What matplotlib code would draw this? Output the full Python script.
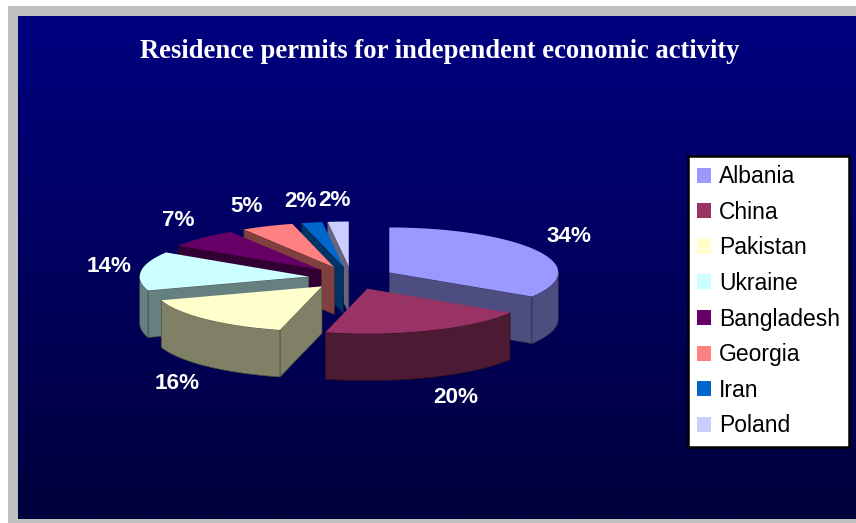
import numpy as np
import matplotlib.pyplot as plt
from matplotlib.patches import Polygon, Rectangle, Patch
from matplotlib.colors import to_rgb

# Residence permits by country of citizenship (share of total, %)
countries = ['Albania', 'China', 'Pakistan', 'Ukraine', 'Bangladesh', 'Georgia', 'Iran', 'Poland']
shares = [34, 20, 16, 14, 7, 5, 2, 2]
colors = ['#9999FF', '#993366', '#FFFFCC', '#CCFFFF', '#660066', '#FF8080', '#0066CC', '#CCCCFF']

W, H = 856, 523

fig = plt.figure(figsize=(W / 100, H / 100), dpi=100)
fig.patch.set_facecolor('white')
ax = fig.add_axes([0, 0, 1, 1])
ax.set_xlim(0, W)
ax.set_ylim(H, 0)
ax.axis('off')

# grey frame and navy gradient panel
ax.add_patch(Rectangle((8, 6), W - 8, H - 6, facecolor='#C0C0C0', edgecolor='none', zorder=0))
top = np.array([0, 0, 128]) / 255
bottom = np.array([0, 0, 60]) / 255
t = np.linspace(0, 1, 256)[:, None, None]
grad = top * (1 - t) + bottom * t
ax.imshow(grad, extent=(18, W, 519, 16), aspect='auto', zorder=1, interpolation='bilinear')

ax.text(440, 51, 'Residence permits for independent economic activity',
        ha='center', va='center', color='white', fontsize=19.2, fontweight='bold',
        family='Liberation Serif', zorder=5)

# 3D pie geometry (pixel space)
cx, cy = 351.5, 278.0
rx, ry = 169.0, 45.0
depth = 47.0
explode = 0.255


def rim(x0, y0, ang, dz=0.0):
    a = np.radians(ang)
    return x0 + rx * np.sin(a), y0 - ry * np.cos(a) + dz


def darker(c, f=0.5):
    return tuple(v * f for v in to_rgb(c))


renderer = fig.canvas.get_renderer()
bounds = np.concatenate([[0], np.cumsum(shares)]) / sum(shares) * 360.0
slices = []
for i, (name, val, col) in enumerate(zip(countries, shares, colors)):
    a1, a2 = bounds[i], bounds[i + 1]
    mid = np.radians((a1 + a2) / 2)
    ox = cx + explode * rx * np.sin(mid)
    oy = cy - explode * ry * np.cos(mid)
    slices.append((np.cos(mid), a1, a2, ox, oy, val, col))

# back slices first
for k, (cm, a1, a2, ox, oy, val, col) in enumerate(sorted(slices, key=lambda s: -s[0])):
    z = 10 + k
    side = darker(col)
    edge = darker(col, 0.3)
    faces = []
    # radial cut faces that face the viewer
    if np.sin(np.radians(a1)) < -1e-6:
        faces.append(a1)
    if np.sin(np.radians(a2)) > 1e-6:
        faces.append(a2)
    for a in faces:
        x, y = rim(ox, oy, a)
        poly = [(ox, oy), (x, y), (x, y + depth), (ox, oy + depth)]
        ax.add_patch(Polygon(poly, closed=True, facecolor=side, edgecolor=edge, lw=0.5, zorder=z))
    # front part of the outer wall
    lo, hi = max(a1, 90), min(a2, 270)
    if hi > lo:
        angs = np.linspace(lo, hi, 80)
        xs, ys = rim(ox, oy, angs)
        pts = list(zip(xs, ys)) + list(zip(xs[::-1], ys[::-1] + depth))
        ax.add_patch(Polygon(pts, closed=True, facecolor=side, edgecolor=edge, lw=0.5, zorder=z))
    # top face
    angs = np.linspace(a1, a2, 120)
    xs, ys = rim(ox, oy, angs)
    pts = [(ox, oy)] + list(zip(xs, ys))
    ax.add_patch(Polygon(pts, closed=True, facecolor=col, edgecolor='none', zorder=z + 0.5))

    # percentage label just outside the rim, pushed away from the pie by half its size
    m = np.radians((a1 + a2) / 2)
    sx, cm_ = np.sin(m), np.cos(m)
    lbl = ax.text(0, 0, f'{val}%', ha='center', va='center', color='white', fontsize=16.2,
                  fontweight='bold', family='Liberation Sans', zorder=30)
    w = lbl.get_window_extent(renderer).width
    lx = ox + (rx + 10) * sx + 0.5 * w * np.clip(sx * 3, -1, 1)
    ly = oy - (ry + 12) * cm_ - 9 * np.clip(cm_ * 3, -1, 1) + (depth if cm_ < 0 else 0)
    lbl.set_position((lx, ly))

handles = [Patch(facecolor=c, edgecolor='none') for c in colors]
leg = ax.legend(handles, countries, loc='upper left', bbox_to_anchor=(688 / W, 1 - 156 / H),
                bbox_transform=fig.transFigure, frameon=True, fancybox=False, framealpha=1,
                prop={'family': 'Liberation Sans', 'size': 16.5},
                handlelength=0.62, handleheight=0.62, handletextpad=0.33,
                labelspacing=0.55, borderpad=0.4, borderaxespad=0)
leg.get_frame().set_edgecolor('black')
leg.get_frame().set_linewidth(1.8)
leg.get_frame().set_facecolor('white')
leg.set_zorder(40)

fig.savefig('out.png', dpi=100)
